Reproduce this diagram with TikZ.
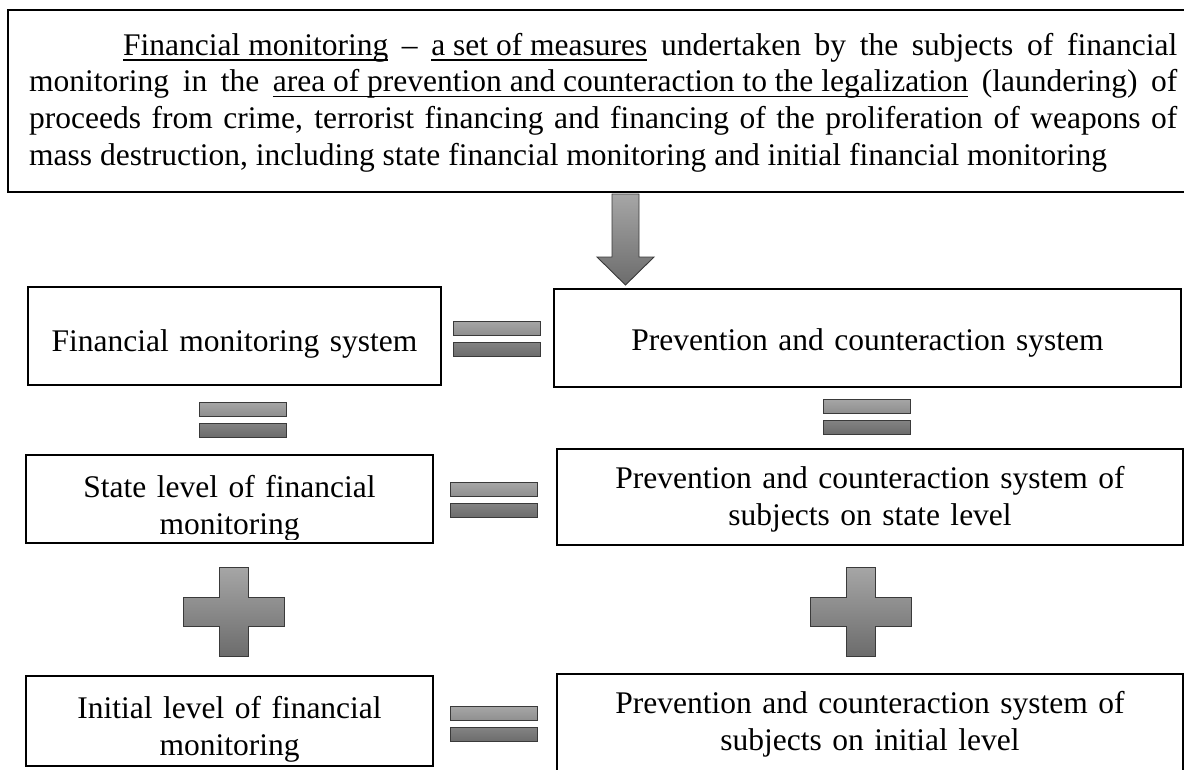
\documentclass[tikz,border=0pt]{standalone}
\usepackage{fontspec}
\setmainfont{Liberation Serif}
\definecolor{symtop}{HTML}{A6A6A6}
\definecolor{symbot}{HTML}{6C6C6C}
\definecolor{symline}{HTML}{3A3A3A}
\newcommand\undl[1]{\setbox0\hbox{#1}\rlap{\rule[-5.7pt]{\wd0}{1.4pt}}\box0\relax}
\begin{document}
\begin{tikzpicture}[x=1pt,y=-1pt,
  box/.style={draw=black, line width=2pt, rectangle, inner sep=0pt, outer sep=0pt, anchor=north west},
  bigbox/.style={box, line width=2.6pt},
  txt/.style={font=\fontsize{31.5}{37}\selectfont, inner sep=0pt, align=center, text width=#1, anchor=base},
  txt/.default=560,
  sym/.style={draw=symline, line width=0.9pt, top color=symtop, bottom color=symbot},
  eqsign/.pic={\path[sym] (-43.5,-17.5) rectangle (43.5,-3.5) (-43.5,3.5) rectangle (43.5,17.5);},
  plussign/.pic={\path[sym] (-14.5,-44.5) -- (14.5,-44.5) -- (14.5,-14.5) -- (50.5,-14.5) -- (50.5,14.5) -- (14.5,14.5) -- (14.5,44.5) -- (-14.5,44.5) -- (-14.5,14.5) -- (-50.5,14.5) -- (-50.5,-14.5) -- (-14.5,-14.5) -- cycle;}
]
\useasboundingbox (0,0) rectangle (1184,769);
\clip (0,0) rectangle (1184,769);

% top definition box
\node[bigbox, minimum width=1190, minimum height=182] (def) at (8,10) {};
\node[font=\fontsize{31.5}{36.7}\selectfont, inner sep=0pt, text width=1148, align=justify, anchor=base west] (defT) at (29,55)
 {\hspace*{94pt}\undl{Financial monitoring} -- \undl{a set of measures} undertaken by the subjects of financial\linebreak
 monitoring in the \undl{area of prevention and counteraction to the legalization} (laundering) of\linebreak
 proceeds from crime, terrorist financing and financing of the proliferation of weapons of\linebreak
 mass destruction, including state financial monitoring and initial financial monitoring};

% row 1
\node[box, minimum width=413, minimum height=98] (fms) at (28,287) {};
\node[txt=410] (fmsT) at (234.5,351) {Financial monitoring system};
\node[box, minimum width=627, minimum height=98] (pcs) at (554,289) {};
\node[txt=620] (pcsT) at (867.5,350) {Prevention and counteraction system};

% arrow from definition to prevention system
\path[sym] (612,194) -- (639,194) -- (639,257) -- (654,257) -- (625.5,285) -- (597,257) -- (612,257) -- cycle;

% row 2
\node[box, minimum width=407, minimum height=88] (sl) at (26,455) {};
\begin{scope}
  \clip (28,457) rectangle (431,539);
  \node[txt=400] (slT) at (229.5,497) {State level of financial\\monitoring};
\end{scope}
\node[box, minimum width=626, minimum height=96] (pcsS) at (557,449) {};
\node[txt=620] (pcsST) at (870,488) {Prevention and counteraction system of\\subjects on state level};

% row 3
\node[box, minimum width=407, minimum height=90] (il) at (26,676) {};
\begin{scope}
  \clip (28,678) rectangle (431,762);
  \node[txt=400] (ilT) at (229.5,718) {Initial level of financial\\monitoring};
\end{scope}
\node[box, minimum width=626, minimum height=110] (pcsI) at (557,674) {};
\node[txt=620] (pcsIT) at (870,713) {Prevention and counteraction system of\\subjects on initial level};

% equality and plus signs
\pic at (496.5,338.5) {eqsign};
\pic at (243,419.5) {eqsign};
\pic at (867,416.5) {eqsign};
\pic at (494,500) {eqsign};
\pic at (494,724) {eqsign};
\pic at (233.5,611.5) {plussign};
\pic at (860.5,611.5) {plussign};
\end{tikzpicture}
\end{document}
